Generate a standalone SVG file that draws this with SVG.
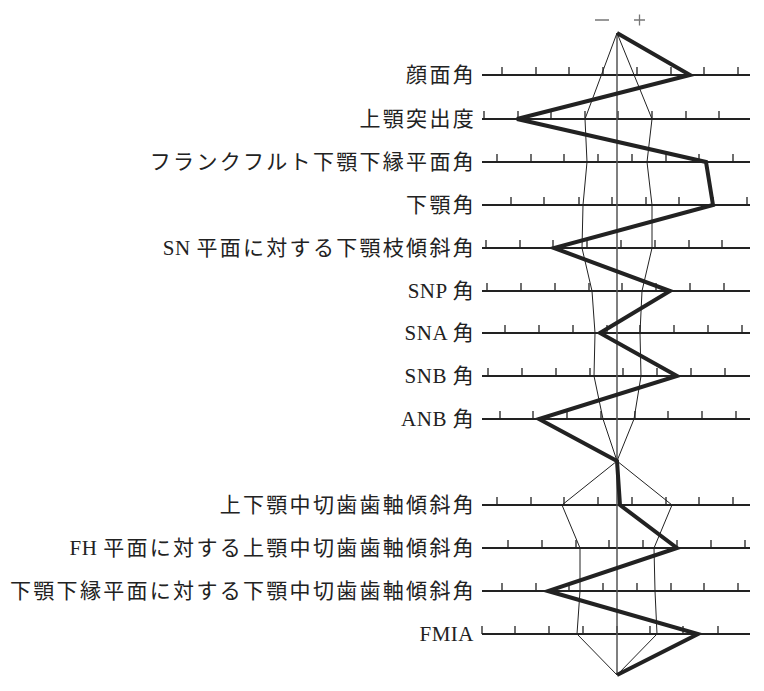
<svg xmlns="http://www.w3.org/2000/svg" width="764" height="691" viewBox="0 0 764 691">
<style>
text{font-family:"Liberation Serif","Noto Sans CJK JP",serif;font-size:21px;letter-spacing:2.3px;fill:#222;text-anchor:end}
.l{letter-spacing:0.5px}
.ax{stroke:#222;stroke-width:2.2;fill:none}
.tk{stroke:#222;stroke-width:1.3;fill:none}
.thin{stroke:#222;stroke-width:1;fill:none}
.thick{stroke:#222;stroke-width:4;fill:none;stroke-linejoin:miter}
</style>
<rect width="764" height="691" fill="#fff"/>
<path d="M595 20H609M634 20H645M639.5 14.5V25.5" stroke="#777" stroke-width="1.3"/>
<g id="labels">
<text x="476" y="82">顔面角</text>
<text x="476" y="126">上顎突出度</text>
<text x="476" y="169">フランクフルト下顎下縁平面角</text>
<text x="476" y="212">下顎角</text>
<text x="476" y="255"><tspan class="l">SN </tspan>平面に対する下顎枝傾斜角</text>
<text x="476" y="298"><tspan class="l">SNP </tspan>角</text>
<text x="476" y="340"><tspan class="l">SNA </tspan>角</text>
<text x="476" y="383"><tspan class="l">SNB </tspan>角</text>
<text x="476" y="426"><tspan class="l">ANB </tspan>角</text>
<text x="476" y="512">上下顎中切歯歯軸傾斜角</text>
<text x="476" y="555"><tspan class="l">FH </tspan>平面に対する上顎中切歯歯軸傾斜角</text>
<text x="476" y="598">下顎下縁平面に対する下顎中切歯歯軸傾斜角</text>
<text x="474" y="641" class="l">FMIA</text>
</g>
<g id="axes">
<path class="ax" d="M482 75H750M482 119H750M482 162H750M482 205H750M482 248H750M482 291H750M482 333H750M482 376H750M482 419H750M482 505H750M482 548H750M482 591H750M482 634H750"/>
<path class="tk" d="M502 75v-8M536 75v-8M569 75v-8M603 75v-8M637 75v-8M671 75v-8M704 75v-8M738 75v-8
M484 119v-8M518 119v-8M551 119v-8M585 119v-8M618 119v-8M652 119v-8M686 119v-8M719 119v-8
M497 162v-8M531 162v-8M564 162v-8M598 162v-8M632 162v-8M666 162v-8M699 162v-8M733 162v-8
M511 205v-8M544 205v-8M579 205v-8M612 205v-8M646 205v-8M679 205v-8M713 205v-8M747 205v-8
M486 248v-8M520 248v-8M553 248v-8M587 248v-8M621 248v-8M655 248v-8M689 248v-8M722 248v-8
M487 291v-8M521 291v-8M555 291v-8M589 291v-8M622 291v-8M656 291v-8M690 291v-8M724 291v-8
M505 333v-8M539 333v-8M573 333v-8M607 333v-8M640 333v-8M674 333v-8M708 333v-8M742 333v-8
M488 376v-8M522 376v-8M556 376v-8M590 376v-8M623 376v-8M657 376v-8M691 376v-8M725 376v-8
M500 419v-8M533 419v-8M567 419v-8M601 419v-8M635 419v-8M668 419v-8M702 419v-8M736 419v-8
M497 505v-8M531 505v-8M564 505v-8M598 505v-8M632 505v-8M666 505v-8M699 505v-8M733 505v-8
M508 548v-8M542 548v-8M576 548v-8M609 548v-8M643 548v-8M677 548v-8M711 548v-8M745 548v-8
M502 591v-8M536 591v-8M569 591v-8M603 591v-8M637 591v-8M671 591v-8M704 591v-8M738 591v-8
M482 634v-8M515 634v-8M549 634v-8M583 634v-8M617 634v-8M650 634v-8M683 634v-8M718 634v-8"/>
</g>
<g id="connectors">
<path d="M617 33V675" stroke="#555" stroke-width="1.5"/>
<path class="thin" d="M617 33L585 119L587 162L583 205L582 248L592 291L595 333L594 376L603 419L617 461L562 505L580 548L580 591L577 634L617 675"/>
<path class="thin" d="M617 33L652 119L647 162L652 205L652 248L642 291L640 333L641 376L634 419L617 461L672 505L654 548L655 591L657 634L617 675"/>
<path class="thick" d="M617 33L690 75L517 119L706 162L713 205L554 248L670 291L600 333L677 376L539 419L617 461L620 505L677 548L548 591L698 634L617 675"/>
</g>
</svg>
